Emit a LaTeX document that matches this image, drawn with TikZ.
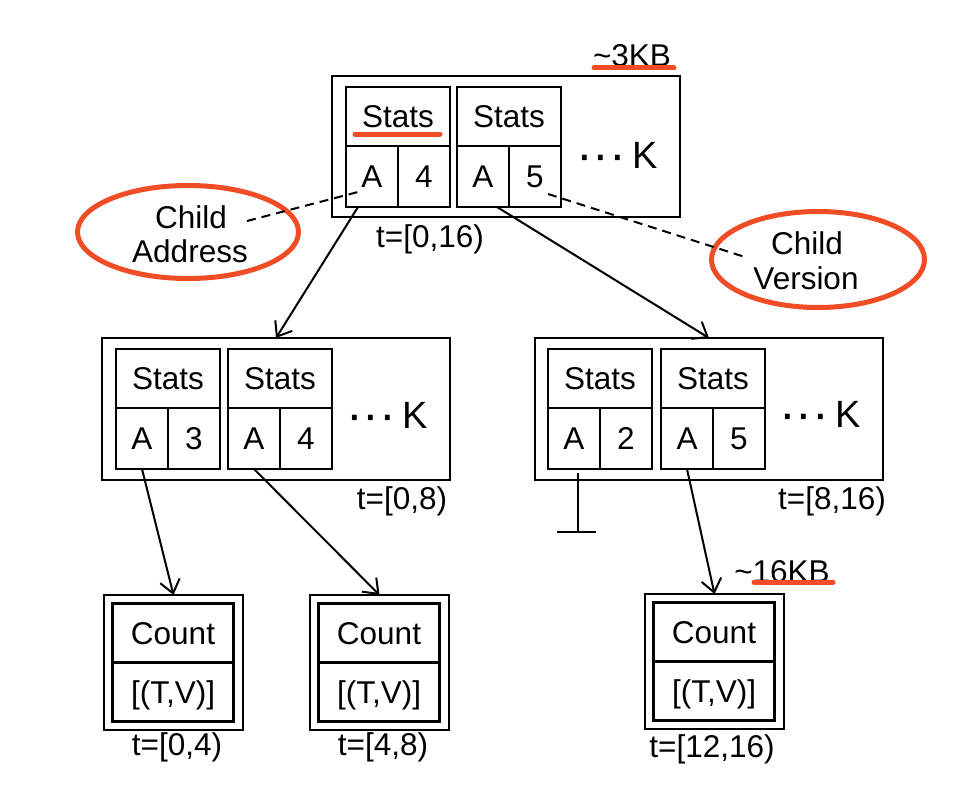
\documentclass[tikz,border=0pt]{standalone}
\usepackage{fontspec}
\setmainfont{Liberation Sans}
\usetikzlibrary{arrows.meta,shapes.geometric}
\definecolor{hl}{RGB}{240,76,38}
\tikzset{
  every node/.style={font=\fontsize{31.5}{36}\selectfont, inner sep=0pt, outer sep=0pt, text depth=0pt},
  cellbox/.style={draw, line width=2.4pt, anchor=north west},
  outerbox/.style={draw, line width=2.6pt, anchor=north west},
  bigk/.style={font=\fontsize{38}{42}\selectfont},
  arr/.style={line width=2pt, -{Straight Barb[length=13pt,width=20pt,line width=2pt]}},
  wire/.style={line width=2pt},
  dashline/.style={line width=2pt, dash pattern=on 9pt off 6pt},
  hlline/.style={draw=hl, line width=5pt, line cap=round},
  hlell/.style={ellipse, draw=hl, line width=5pt},
}
\newcommand\bigdots{{\fontsize{50}{50}\selectfont\raisebox{-3pt}{···}}}
\newcommand\cellpair[4]{%
  \node[cellbox, minimum width=104pt, minimum height=59pt] (#1s) at (#2,#3) {Stats};
  \node[cellbox, minimum width=52pt, minimum height=61pt] (#1a) at (#2,#3+59) {A};
  \node[cellbox, minimum width=52pt, minimum height=61pt] (#1n) at (#2+52,#3+59) {#4};
}
\newcommand\leafbox[3]{%
  \node[outerbox, minimum width=139pt, minimum height=135pt] (#1) at (#2,#3) {};
  \node[cellbox, minimum width=121pt, minimum height=59pt] (#1c) at (#2+8.5,#3+8.5) {Count};
  \node[cellbox, minimum width=121pt, minimum height=59pt] (#1v) at (#2+8.5,#3+67.5) {[(T,V)]};
}
\begin{document}
\begin{tikzpicture}[x=1pt,y=-1pt]
\useasboundingbox (0,0) rectangle (962,792);
% top node
\node[outerbox, minimum width=348pt, minimum height=141pt] (top) at (332,76) {};
\cellpair{ta}{346}{87}{4}
\cellpair{tb}{457}{87}{5}
\node[bigk] (topk) at (617,155) {\bigdots\,K};
\node (topsize) at (632,56) {\textasciitilde 3KB};
\node (toplab) at (430,236) {t=[0,16)};
% middle left
\node[outerbox, minimum width=348pt, minimum height=142pt] (ml) at (102,338) {};
\cellpair{mla}{116}{349}{3}
\cellpair{mlb}{228}{349}{4}
\node[bigk] (mlk) at (387,415) {\bigdots\,K};
\node (mllab) at (402,498) {t=[0,8)};
% middle right
\node[outerbox, minimum width=348pt, minimum height=142pt] (mr) at (535,338) {};
\cellpair{mra}{548}{349}{2}
\cellpair{mrb}{661}{349}{5}
\node[bigk] (mrk) at (820,414) {\bigdots\,K};
\node (mrlab) at (832,498) {t=[8,16)};
% leaves
\leafbox{la}{104}{595}
\leafbox{lb}{310}{595}
\leafbox{lc}{645}{594}
\node (lalab) at (177,744) {t=[0,4)};
\node (lblab) at (383,744) {t=[4,8)};
\node (lclab) at (712,746) {t=[12,16)};
\node (lcsize) at (782,571) {\textasciitilde 16KB};
% callouts
\node[hlell, minimum width=221pt, minimum height=93pt] (caddr) at (188,232) {};
\node (caddr1) at (191,217) {Child};
\node (caddr2) at (190,251) {Address};
\node[hlell, minimum width=213pt, minimum height=96pt] (cver) at (818,259.5) {};
\node (cver1) at (807,243) {Child};
\node (cver2) at (806,278) {Version};
% highlight underlines
\draw[hlline] (594,68) -- (674,68);
\draw[hlline] (355,134) -- (440,134);
\draw[hlline] (754,582) -- (833,582);
% connectors
\draw[arr] ([xshift=-14pt]taa.south) -- (ml.north);
\draw[arr] ([xshift=14pt]tba.south) -- (mr.north);
\draw[arr] (mlaa.south) -- (la.north);
\draw[arr] (mlba.south) -- (lb.north);
\draw[arr] (mrba.south) -- (lc.north);
% null pointer
\coordinate (gtop) at (578,473);
\coordinate (gnd) at (578,532);
\coordinate (gndl) at (557,532);
\coordinate (gndr) at (596,532);
\draw[wire] (gtop) -- (gnd);
\draw[wire] (gndl) -- (gndr);
% dashed callout lines
\coordinate (d1a) at (247,221);
\coordinate (d1b) at (358,192);
\coordinate (d2a) at (548,194);
\coordinate (d2b) at (748,258);
\draw[dashline] (d1a) -- (d1b);
\draw[dashline] (d2a) -- (d2b);
\end{tikzpicture}
\end{document}
